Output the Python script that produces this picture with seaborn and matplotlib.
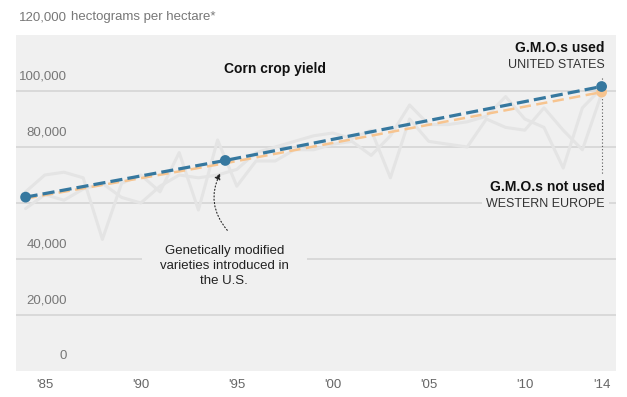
import numpy as np
import pandas as pd
import seaborn as sns
import matplotlib.pyplot as plt

# yearly yields (hectograms per hectare)
years = list(range(1984, 2015))
us_yield = [64000, 70000, 71000, 69000, 47000, 67000, 70000, 64000, 78000, 57500,
            82500, 66000, 75000, 75000, 79000, 79000, 81000, 82000, 77000, 84000,
            95000, 88000, 88000, 89000, 91000, 98000, 90000, 87000, 72500, 94000,
            101000]
eu_yield = [58000, 63000, 61000, 65000, 67000, 62000, 60000, 66000, 70000, 69000,
            70000, 72000, 78000, 80000, 82000, 84000, 85000, 83000, 86000, 69000,
            90000, 82000, 81000, 80000, 90000, 87000, 86000, 94000, 86000, 79000,
            99000]

# trend lines
trend_years = [1984, 1994.4, 2014]
us_trend = [62100, 75200, 101600]
eu_trend = [61600, 74200, 99600]

yticks = [0, 20000, 40000, 60000, 80000, 100000]
ytick_labels = ["0", "20,000", "40,000", "", "80,000", "100,000"]
xticks = [1985, 1990, 1995, 2000, 2005, 2010, 2014]
xtick_labels = ["'85", "'90", "'95", "'00", "'05", "'10", "'14"]

BG = "#f0f0f0"
BLUE = "#36789f"
ORANGE = "#f7c48f"

sns.set_style("white")
plt.rcParams["font.family"] = ["Liberation Sans", "DejaVu Sans"]

df = pd.DataFrame({
    "year": years * 2,
    "yield": us_yield + eu_yield,
    "region": ["United States"] * len(years) + ["Western Europe"] * len(years),
})

fig = plt.figure(figsize=(6.27, 3.97), dpi=100)
ax = fig.add_axes([16 / 627, 26 / 397, 600 / 627, 336 / 397])
ax.set_facecolor(BG)

for y in yticks[1:]:
    ax.axhline(y, color="#d2d2d2", lw=1.1, zorder=1)

sns.lineplot(data=df, x="year", y="yield", hue="region",
             palette=["#e4e4e4", "#e4e4e4"], lw=2.2, legend=False, ax=ax, zorder=2)

ax.plot(trend_years, eu_trend, color=ORANGE, lw=1.8, ls=(0, (4.5, 2.2)), zorder=3)
ax.plot(trend_years, us_trend, color=BLUE, lw=2.3, ls=(0, (3.8, 1.6)), zorder=4)
sns.scatterplot(x=[trend_years[-1]], y=[eu_trend[-1]], color=ORANGE, s=60,
                edgecolor="none", ax=ax, zorder=5)
sns.scatterplot(x=[trend_years[0], trend_years[1], trend_years[-1]],
                y=[us_trend[0], us_trend[1], us_trend[-1]], color=BLUE, s=60,
                edgecolor="none", ax=ax, zorder=6)

ax.set_xlim(1983.5, 2014.75)
ax.set_ylim(0, 120000)
ax.set_xticks(xticks)
ax.set_xticklabels(xtick_labels, color="#666666", fontsize=9.5)
ax.set_yticks([])
ax.tick_params(axis="x", length=0, pad=6)
ax.set_xlabel("")
ax.set_ylabel("")
for s in ax.spines.values():
    s.set_visible(False)

# y labels drawn inside the plot, above each gridline
for y, lab in zip(yticks, ytick_labels):
    if lab:
        ax.text(1986.15, y + 3200, lab, ha="right", va="bottom",
                color="#777777", fontsize=9.5)
ax.text(1986.15, 124200, "120,000", ha="right", va="bottom",
        color="#777777", fontsize=9.5, clip_on=False)
ax.text(1986.35, 124200, "hectograms per hectare*", ha="left", va="bottom",
        color="#777777", fontsize=9.5, clip_on=False)

ax.text(1997.0, 107700, "Corn crop yield", ha="center", va="center",
        fontsize=10, fontweight="bold", color="#111111")

ax.text(2014.15, 115500, "G.M.O.s used", ha="right", va="center",
        fontsize=10, fontweight="bold", color="#111111")
ax.text(2014.15, 109200, "UNITED STATES", ha="right", va="center",
        fontsize=9, color="#333333")
ax.text(2014.15, 65800, "G.M.O.s not used", ha="right", va="center",
        fontsize=10, fontweight="bold", color="#111111",
        bbox=dict(facecolor=BG, edgecolor="none", pad=1))
ax.text(2014.15, 59600, "WESTERN EUROPE", ha="right", va="center",
        fontsize=9, color="#333333",
        bbox=dict(facecolor=BG, edgecolor="none", pad=3))
ax.plot([2014, 2014], [104500, us_trend[-1]], color="#555555", lw=0.8,
        ls=(0, (1, 2)), zorder=3)
ax.plot([2014, 2014], [eu_trend[-1], 70500], color="#555555", lw=0.8,
        ls=(0, (1, 2)), zorder=3)

ax.text(1994.35, 37500, "Genetically modified\nvarieties introduced in\nthe U.S.",
        ha="center", va="center", fontsize=9.5, color="#222222", linespacing=1.35,
        bbox=dict(facecolor=BG, edgecolor="none", pad=13))
ax.annotate("", xy=(1994.2, 71500), xytext=(1994.6, 49500),
            arrowprops=dict(arrowstyle="-|>", color="#222222", lw=0.8,
                            ls=(0, (1, 2)), connectionstyle="arc3,rad=-0.35",
                            mutation_scale=9))

fig.savefig("out.png", dpi=100)
